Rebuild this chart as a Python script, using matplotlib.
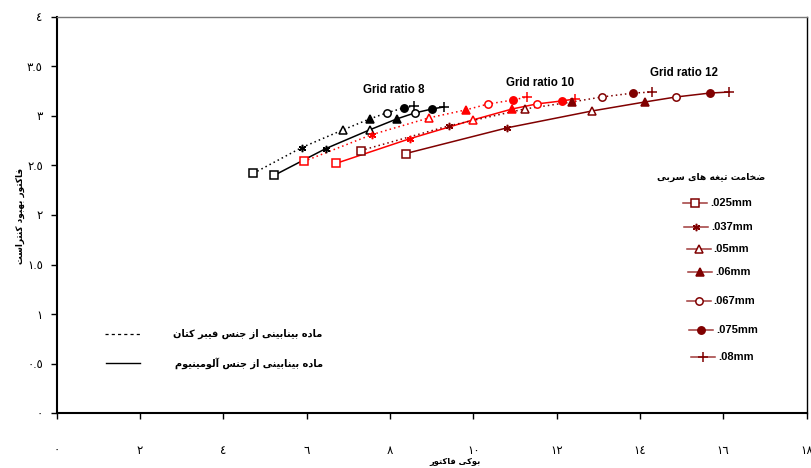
import matplotlib
matplotlib.use("Agg")
import matplotlib.pyplot as plt
from matplotlib.lines import Line2D

plt.rcParams['font.family'] = ['Liberation Sans', 'DejaVu Sans']

# --- data (bucky factor, contrast improvement factor) ---
thickness = ['.025mm', '.037mm', '.05mm', '.06mm', '.067mm', '.075mm', '.08mm']

gr8_fiber_x = [4.72, 5.88, 6.88, 7.52, 7.92, 8.33, 8.57]
gr8_fiber_y = [2.42, 2.68, 2.86, 2.97, 3.03, 3.08, 3.10]
gr8_al_x = [5.22, 6.46, 7.52, 8.17, 8.60, 9.02, 9.29]
gr8_al_y = [2.40, 2.67, 2.86, 2.97, 3.03, 3.07, 3.09]

gr10_fiber_x = [5.93, 7.56, 8.94, 9.82, 10.36, 10.96, 11.28]
gr10_fiber_y = [2.54, 2.81, 2.98, 3.06, 3.12, 3.16, 3.19]
gr10_al_x = [6.70, 8.48, 10.00, 10.94, 11.52, 12.12, 12.44]
gr10_al_y = [2.52, 2.77, 2.96, 3.07, 3.12, 3.15, 3.17]

gr12_fiber_x = [7.30, 9.42, 11.24, 12.37, 13.08, 13.84, 14.29]
gr12_fiber_y = [2.65, 2.90, 3.07, 3.14, 3.19, 3.23, 3.24]
gr12_al_x = [8.38, 10.82, 12.86, 14.12, 14.86, 15.68, 16.14]
gr12_al_y = [2.62, 2.88, 3.05, 3.14, 3.19, 3.23, 3.24]

grid_labels = ['Grid ratio 8', 'Grid ratio 10', 'Grid ratio 12']
grid_label_x = [8.1, 11.6, 15.05]
grid_label_y = [3.26, 3.33, 3.43]

x_ticks = [0, 2, 4, 6, 8, 10, 12, 14, 16, 18]
y_ticks = [0, 0.5, 1, 1.5, 2, 2.5, 3, 3.5, 4]

xlabel_fa = 'بوکی فاکتور'
ylabel_fa = 'فاکتور بهبود کنتراست'
legend_title_fa = 'ضخامت تیغه های سربی'
fiber_fa = 'ماده بینابینی از جنس فیبر کتان'
alum_fa = 'ماده بینابینی از جنس آلومینیوم'

# marker style per lead thickness: (marker, filled)
markers = [('s', False), ((6, 2, 0), True), ('^', False), ('^', True),
           ('o', False), ('o', True), ('+', True)]

# --- tiny persian shaper (matplotlib has no arabic shaping / bidi) ---
FORMS = {
    'ا': ('\uFE8D', '\uFE8E', None, None),
    'آ': ('\uFE81', '\uFE82', None, None),
    'ب': ('\uFE8F', '\uFE90', '\uFE91', '\uFE92'),
    'ت': ('\uFE95', '\uFE96', '\uFE97', '\uFE98'),
    'ج': ('\uFE9D', '\uFE9E', '\uFE9F', '\uFEA0'),
    'خ': ('\uFEA5', '\uFEA6', '\uFEA7', '\uFEA8'),
    'د': ('\uFEA9', '\uFEAA', None, None),
    'ر': ('\uFEAD', '\uFEAE', None, None),
    'ز': ('\uFEAF', '\uFEB0', None, None),
    'س': ('\uFEB1', '\uFEB2', '\uFEB3', '\uFEB4'),
    'ض': ('\uFEBD', '\uFEBE', '\uFEBF', '\uFEC0'),
    'غ': ('\uFECD', '\uFECE', '\uFECF', '\uFED0'),
    'ف': ('\uFED1', '\uFED2', '\uFED3', '\uFED4'),
    'ک': ('\uFB8E', '\uFB8F', '\uFB90', '\uFB91'),
    'ل': ('\uFEDD', '\uFEDE', '\uFEDF', '\uFEE0'),
    'م': ('\uFEE1', '\uFEE2', '\uFEE3', '\uFEE4'),
    'ن': ('\uFEE5', '\uFEE6', '\uFEE7', '\uFEE8'),
    'ه': ('\uFEE9', '\uFEEA', '\uFEEB', '\uFEEC'),
    'و': ('\uFEED', '\uFEEE', None, None),
    'ی': ('\uFBFC', '\uFBFD', '\uFBFE', '\uFBFF'),
}


def fa(text):
    out = []
    for i, ch in enumerate(text):
        f = FORMS.get(ch)
        if f is None:
            out.append(ch)
            continue
        prev = FORMS.get(text[i - 1]) if i > 0 else None
        nxt = FORMS.get(text[i + 1]) if i < len(text) - 1 else None
        join_prev = prev is not None and prev[2] is not None
        join_next = f[2] is not None and nxt is not None
        if join_prev and join_next:
            out.append(f[3])
        elif join_prev:
            out.append(f[1])
        elif join_next:
            out.append(f[2])
        else:
            out.append(f[0])
    return ''.join(reversed(out))


def ar_digits(v):
    s = ('%g' % v)
    return s.translate(str.maketrans('0123456789', '٠١٢٣٤٥٦٧٨٩'))


def draw_series(ax, xs, ys, color, ls):
    ax.plot(xs, ys, color=color, linestyle=ls, linewidth=1.1, zorder=2)
    for x, y, (m, filled) in zip(xs, ys, markers):
        ax.plot([x], [y], marker=m, markersize=5.3 if m != '+' else 7,
                markeredgecolor=color, markeredgewidth=1.1,
                markerfacecolor=color if filled else 'white',
                linestyle='none', zorder=3)


fig = plt.figure(figsize=(8.11, 4.68), dpi=100)
ax = fig.add_axes([0.0699, 0.1169, 0.9246, 0.8474])

dotted = (0, (1, 2))
draw_series(ax, gr8_fiber_x, gr8_fiber_y, 'black', dotted)
draw_series(ax, gr8_al_x, gr8_al_y, 'black', '-')
draw_series(ax, gr10_fiber_x, gr10_fiber_y, '#ff0000', dotted)
draw_series(ax, gr10_al_x, gr10_al_y, '#ff0000', '-')
draw_series(ax, gr12_fiber_x, gr12_fiber_y, '#800000', dotted)
draw_series(ax, gr12_al_x, gr12_al_y, '#800000', '-')

for lab, x, y in zip(grid_labels, grid_label_x, grid_label_y):
    ax.text(x, y, lab, ha='center', va='center', fontsize=8.3,
            fontweight='bold', family='Liberation Sans')

ax.set_xlim(0, 18)
ax.set_ylim(0, 4)
ax.set_xticks(x_ticks)
ax.set_xticklabels([ar_digits(v) for v in x_ticks], fontsize=8.5)
ax.set_yticks(y_ticks)
ax.set_yticklabels([ar_digits(v) for v in y_ticks], fontsize=8.5)
ax.tick_params(axis='x', direction='out', length=4, pad=19, width=1)
ax.tick_params(axis='y', direction='out', length=4, pad=6, width=1)
for s in ax.spines.values():
    s.set_linewidth(1.0)
ax.spines['left'].set_linewidth(1.5)
ax.spines['bottom'].set_linewidth(1.5)
ax.spines['top'].set_color('#777777')

fig.text(455 / 811, 1 - 461 / 468, fa(xlabel_fa), ha='center', va='center',
         fontsize=6, fontweight='bold', family='DejaVu Sans')
fig.text(20 / 811, 1 - 216 / 468, fa(ylabel_fa), ha='center', va='center',
         rotation=90, fontsize=6.4, fontweight='bold', family='DejaVu Sans')


# --- legends drawn by hand, positions in figure pixels ---
def px(x, y):
    return x / 811, 1 - y / 468


fig.text(*px(711, 177), fa(legend_title_fa), ha='center', va='center',
         fontsize=6.7, fontweight='bold', family='DejaVu Sans')
leg_y = [202.7, 226.7, 249.3, 271.7, 300.7, 330, 357.3]
leg_x0 = [683.3, 684.3, 686.7, 688.3, 686.7, 689, 691]
for lab, y, x0, (m, filled) in zip(thickness, leg_y, leg_x0, markers):
    fig.add_artist(Line2D([x0 / 811, (x0 + 24) / 811], [1 - y / 468] * 2,
                          color='#a03a3a', linewidth=1.1))
    fig.add_artist(Line2D([(x0 + 12) / 811], [1 - y / 468], marker=m,
                          markersize=5.3 if m != '+' else 7,
                          markeredgecolor='#800000', markeredgewidth=1.1,
                          markerfacecolor='#800000' if filled else 'white',
                          linestyle='none'))
    fig.text(*px(x0 + 27, y), lab, ha='left', va='center', fontsize=8,
             fontweight='bold', family='Liberation Sans')

fig.add_artist(Line2D([105 / 811, 140 / 811], [1 - 334 / 468] * 2,
                      color='black', linewidth=0.9, linestyle=(0, (2.5, 2.5))))
fig.add_artist(Line2D([106 / 811, 140 / 811], [1 - 362.7 / 468] * 2,
                      color='black', linewidth=1.0))
fig.text(*px(322, 334), fa(fiber_fa), ha='right', va='center', fontsize=7,
         fontweight='bold', family='DejaVu Sans')
fig.text(*px(323, 363), fa(alum_fa), ha='right', va='center', fontsize=7,
         fontweight='bold', family='DejaVu Sans')

fig.savefig('out.png', dpi=100)
